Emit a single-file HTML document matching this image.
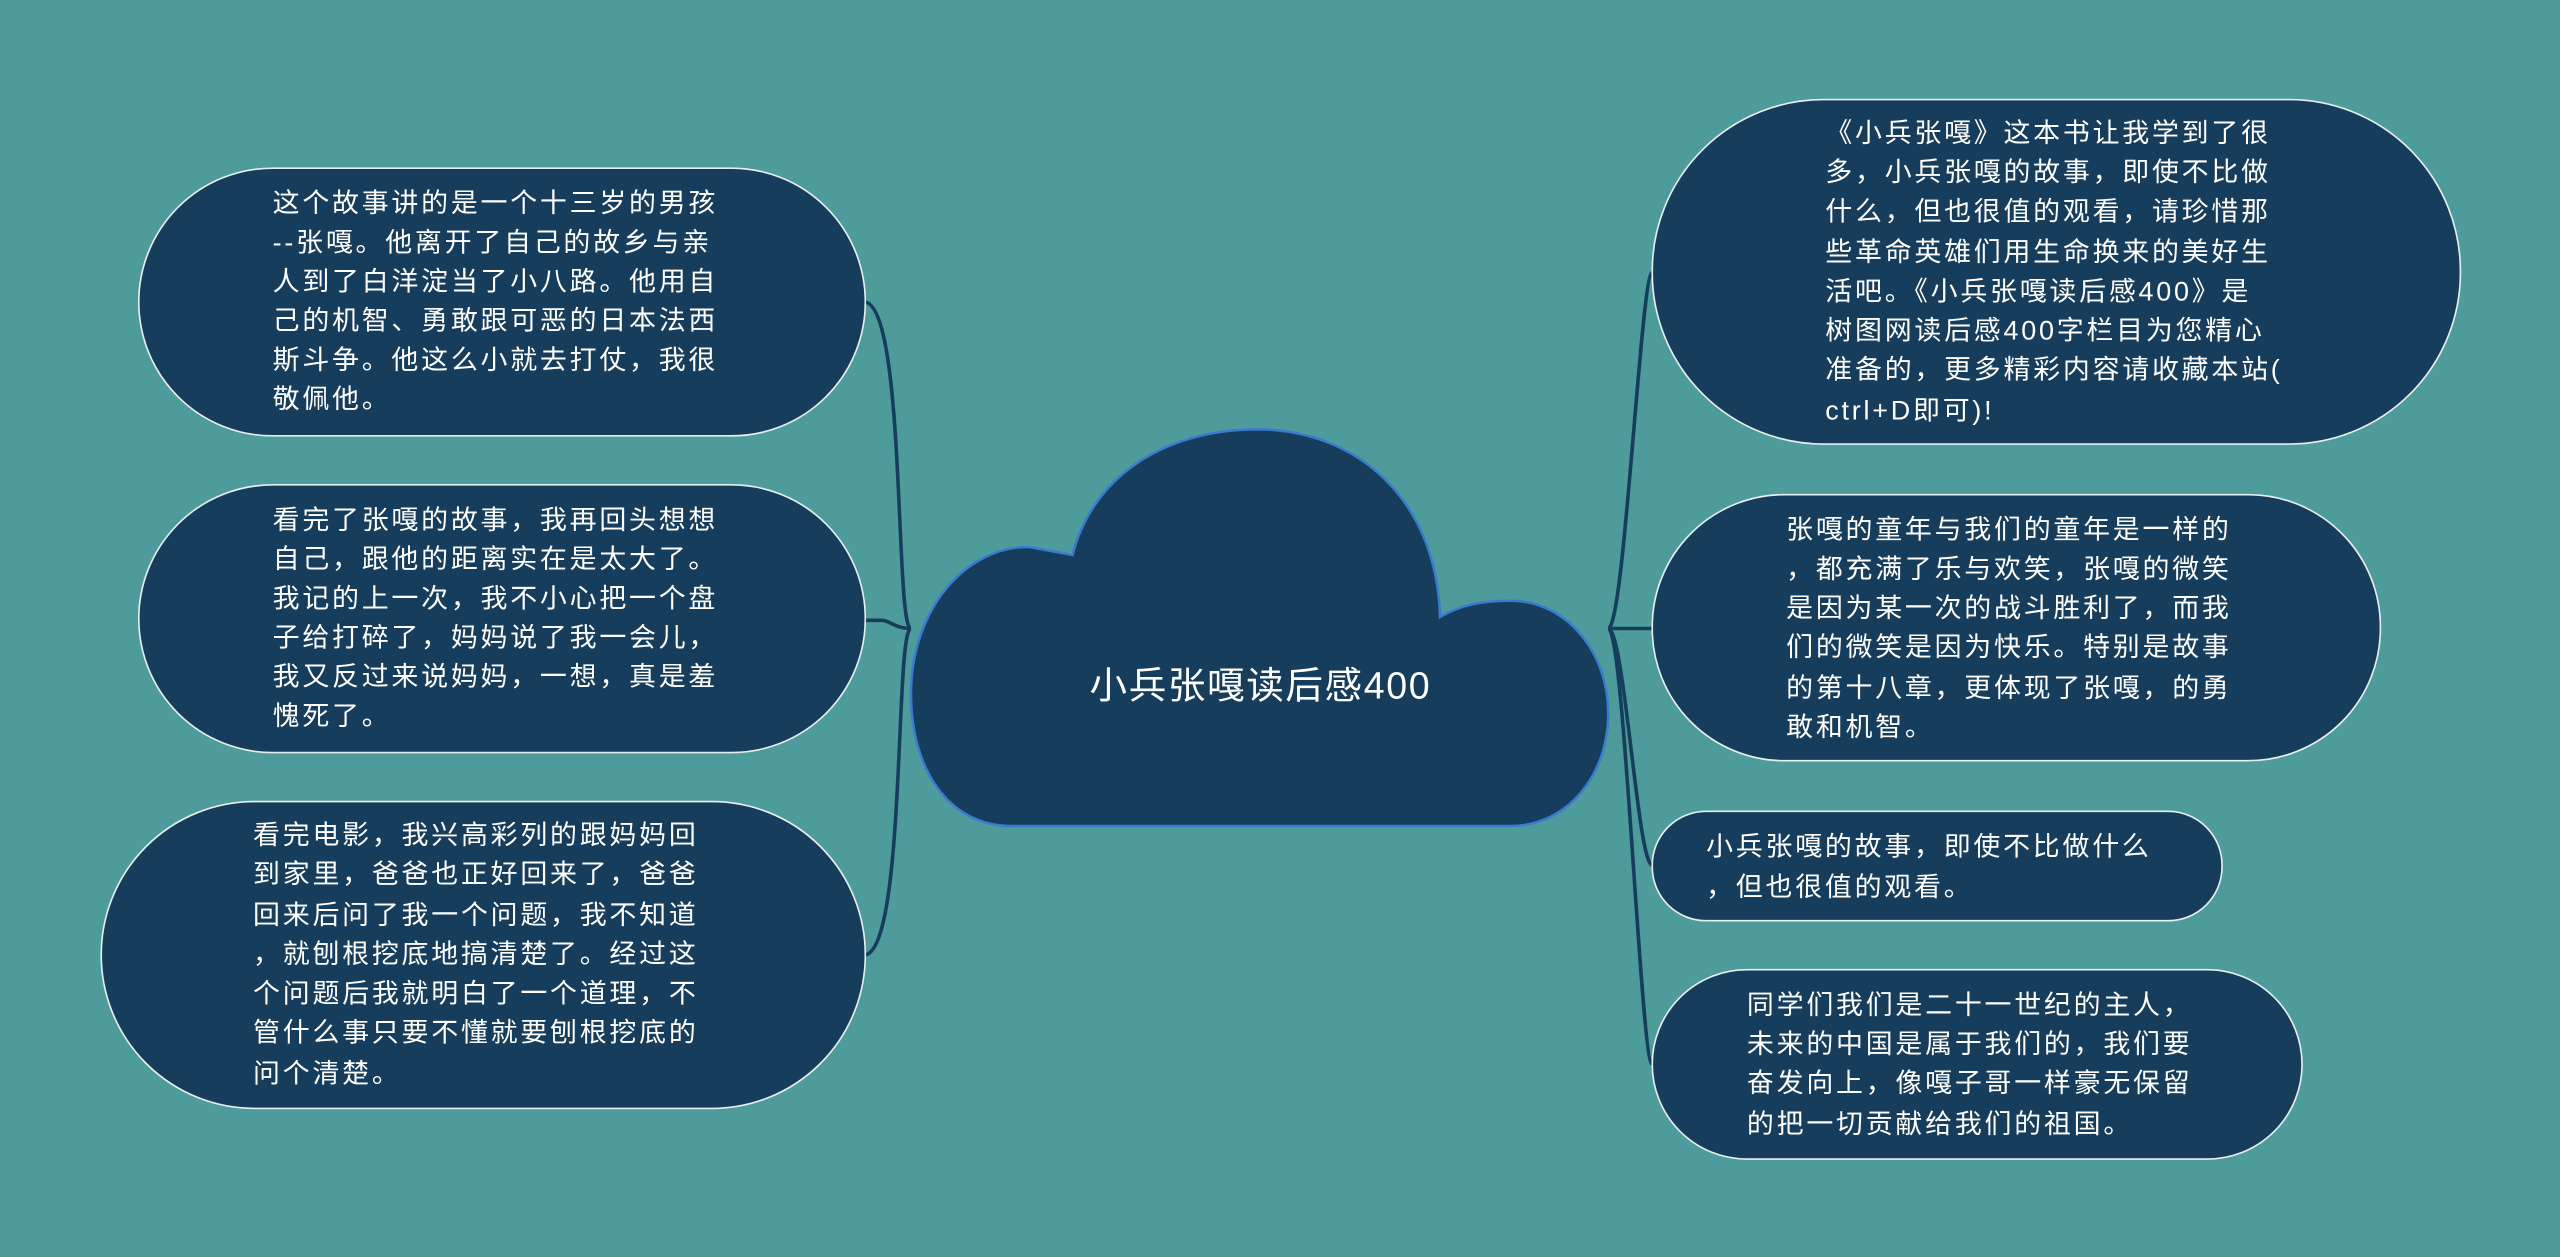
<!DOCTYPE html>
<html><head><meta charset="utf-8"><style>
html,body{margin:0;padding:0;background:#4d9b9b;}
svg{display:block}
text{font-family:"Liberation Sans","Noto Sans CJK SC",sans-serif;fill:#fff;}
</style></head><body>
<svg width="2560" height="1257" viewBox="0 0 1568 770" preserveAspectRatio="none" xmlns="http://www.w3.org/2000/svg">
<rect width="1568" height="770" fill="#4d9b9b"/>
<g fill="none" stroke="#173d5c" stroke-width="2.2">
<path d="M558,385 C548,385 545,380 540,380 C535,380 535,380 530,380"/>
<path d="M558,385 C548,385 555,190 530,185"/>
<path d="M558,385 C548,385 555,580 530,585"/>
<path d="M985,385 C995,385 1005,167 1012,167"/>
<path d="M985,385 L1012,385"/>
<path d="M985,385 C995,385 1003,530 1012,530"/>
<path d="M985,385 C995,385 1005,652 1012,652"/>
</g>
<g fill="#173d5c" stroke="#e8eef0" stroke-width="1">
<rect x="85" y="103" width="445" height="164" rx="82"/>
<rect x="85" y="297" width="445" height="164" rx="82"/>
<rect x="62" y="491" width="468" height="188" rx="94"/>
<rect x="1012" y="61" width="495" height="211" rx="105"/>
<rect x="1012" y="303" width="446" height="163" rx="81"/>
<rect x="1012" y="497" width="349" height="67" rx="33"/>
<rect x="1012" y="594" width="398" height="116" rx="58"/>
</g>
<path d="M620,506 C580,506 558,470 558,425 C558,375 590,335 630,335 L657,340 C668,295 710,263 770,263 C830,263 880,305 882,378 C895,370 910,368 925,368 C960,368 985,400 985,437 C985,475 960,506 925,506 Z" fill="#173d5c" stroke="#3a7ad0" stroke-width="1.5"/>
<text x="772" y="428" font-size="23" letter-spacing="1" text-anchor="middle">小兵张嘎读后感400</text>
<g font-size="16.5" letter-spacing="1.7">
<text x="167" y="130">这个故事讲的是一个十三岁的男孩</text>
<text x="167" y="154">--张嘎。他离开了自己的故乡与亲</text>
<text x="167" y="178">人到了白洋淀当了小八路。他用自</text>
<text x="167" y="202">己的机智、勇敢跟可恶的日本法西</text>
<text x="167" y="226">斯斗争。他这么小就去打仗，我很</text>
<text x="167" y="250">敬佩他。</text>

<text x="167" y="324">看完了张嘎的故事，我再回头想想</text>
<text x="167" y="348">自己，跟他的距离实在是太大了。</text>
<text x="167" y="372">我记的上一次，我不小心把一个盘</text>
<text x="167" y="396">子给打碎了，妈妈说了我一会儿，</text>
<text x="167" y="420">我又反过来说妈妈，一想，真是羞</text>
<text x="167" y="444">愧死了。</text>

<text x="155" y="517">看完电影，我兴高彩列的跟妈妈回</text>
<text x="155" y="541">到家里，爸爸也正好回来了，爸爸</text>
<text x="155" y="566">回来后问了我一个问题，我不知道</text>
<text x="155" y="590">，就刨根挖底地搞清楚了。经过这</text>
<text x="155" y="614">个问题后我就明白了一个道理，不</text>
<text x="155" y="638">管什么事只要不懂就要刨根挖底的</text>
<text x="155" y="663">问个清楚。</text>

<text x="1118" y="87">《小兵张嘎》这本书让我学到了很</text>
<text x="1118" y="111">多，小兵张嘎的故事，即使不比做</text>
<text x="1118" y="135">什么，但也很值的观看，请珍惜那</text>
<text x="1118" y="160">些革命英雄们用生命换来的美好生</text>
<text x="1118" y="184">活吧。《小兵张嘎读后感400》是</text>
<text x="1118" y="208">树图网读后感400字栏目为您精心</text>
<text x="1118" y="232">准备的，更多精彩内容请收藏本站(</text>
<text x="1118" y="257">ctrl+D即可)!</text>

<text x="1094" y="330">张嘎的童年与我们的童年是一样的</text>
<text x="1094" y="354">，都充满了乐与欢笑，张嘎的微笑</text>
<text x="1094" y="378">是因为某一次的战斗胜利了，而我</text>
<text x="1094" y="402">们的微笑是因为快乐。特别是故事</text>
<text x="1094" y="427">的第十八章，更体现了张嘎，的勇</text>
<text x="1094" y="451">敢和机智。</text>

<text x="1045" y="524">小兵张嘎的故事，即使不比做什么</text>
<text x="1045" y="549">，但也很值的观看。</text>

<text x="1070" y="621">同学们我们是二十一世纪的主人，</text>
<text x="1070" y="645">未来的中国是属于我们的，我们要</text>
<text x="1070" y="669">奋发向上，像嘎子哥一样豪无保留</text>
<text x="1070" y="694">的把一切贡献给我们的祖国。</text>
</g>
</svg>
</body></html>
